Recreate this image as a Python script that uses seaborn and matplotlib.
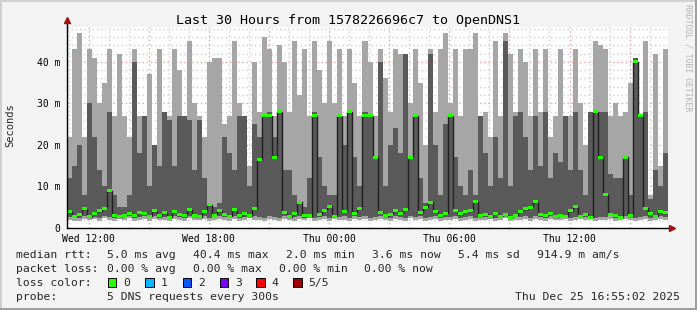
import numpy as np
import pandas as pd
import matplotlib
matplotlib.use("Agg")
import matplotlib.pyplot as plt
import matplotlib.dates as mdates
from matplotlib.patches import Rectangle
import seaborn as sns

# ---------------- data (ms), one value per 15-minute bin ----------------
start_time = "2025-12-24 10:55"
bin_freq = "15min"

ping_min = [2.0,1.8,1.7,2.2,1.9,2.1,1.6,2.3,2.0,1.8,2.2,1.9,2.4,1.7,2.0,2.1,1.8,2.2,1.9,2.0,
            1.7,2.1,2.0,1.8,2.3,1.9,2.0,2.2,1.6,1.9,2.1,2.0,1.8,2.2,1.7,2.0,2.3,1.9,2.0,1.8,
            2.1,1.9,1.7,2.2,2.0,1.8,2.1,1.9,2.3,1.7,2.0,2.2,1.8,2.1,1.9,2.0,1.6,2.2,1.9,2.1,
            1.8,2.0,2.2,1.9,1.7,2.1,2.0,1.8,2.3,1.9,2.1,1.7,2.0,2.2,1.8,2.0,1.9,2.1,1.6,2.0,
            2.2,1.8,2.0,1.9,2.1,1.7,2.0,2.3,1.8,2.0,1.9,2.2,1.7,2.1,2.0,1.8,2.2,1.9,2.0,2.1,
            1.8,2.0,2.1,1.9,2.2,1.7,2.0,1.9,2.1,1.8,2.0,2.2,1.9,1.7,2.0,2.1,1.8,2.0,2.2,1.9]

ping_low = [2.6,2.4,2.5,2.8,2.4,2.7,2.3,2.9,2.6,2.5,2.4,2.6,2.9,2.4,2.7,2.8,2.4,2.9,2.5,2.7,
            2.4,2.8,2.6,2.5,2.9,2.6,2.5,2.8,2.4,2.6,2.8,2.7,2.5,2.9,2.4,2.7,2.6,2.8,2.6,2.5,
            2.8,2.6,2.4,2.9,2.5,2.6,2.8,2.5,2.7,2.4,2.7,2.9,2.5,2.6,2.6,2.8,2.3,2.9,2.6,2.8,
            2.5,2.7,2.9,2.6,2.4,2.8,2.7,2.5,2.9,2.6,2.8,2.4,2.7,2.9,2.5,2.7,2.6,2.8,2.3,2.7,
            2.9,2.5,2.6,2.6,2.5,2.4,2.6,2.9,2.4,2.7,2.6,2.9,2.4,2.8,2.7,2.5,2.9,2.5,2.7,2.6,
            2.5,2.7,2.6,2.6,2.5,2.4,2.7,2.6,2.8,2.5,2.4,2.9,2.6,2.4,2.7,2.8,2.5,2.6,2.9,2.6]

median_rtt = [3.9,2.8,3.3,4.6,2.7,3.5,4.2,4.8,9.0,2.9,2.7,3.1,3.6,2.9,3.8,3.4,2.8,4.1,3.0,3.7,
              2.6,3.9,3.2,2.9,4.4,3.0,2.7,4.0,5.6,3.1,4.2,3.3,2.8,4.5,3.0,3.6,2.9,4.8,16.5,27.0,
              27.0,17.0,28.0,3.8,2.7,3.4,6.2,3.0,2.9,27.0,3.2,4.3,5.2,2.8,27.0,3.9,28.0,3.5,4.6,27.0,
              27.0,17.0,3.8,2.9,3.3,4.2,3.6,4.5,17.0,27.0,3.7,5.0,6.2,3.9,2.9,3.6,27.0,4.2,3.4,3.9,
              4.1,6.3,2.9,3.3,2.7,3.5,2.8,3.2,2.6,3.1,3.9,4.6,5.0,6.3,3.2,2.9,3.4,2.7,3.1,2.8,
              4.2,5.1,2.8,3.3,2.6,28.0,17.0,8.0,3.3,2.9,2.6,17.0,3.0,40.0,27.0,4.8,3.6,2.8,3.9,3.7]

ping_high = [12,15,20,8,30,22,14,10,28,8,5,5,8,40,18,27,10,20,15,28,
             26,15,27,27,26,14,26,12,5,5,6,22,18,14,27,27,10,25,22,27,
             28,22,28,14,14,8,6,5,12,28,17,10,8,8,27,20,28,17,10,28,
             27,17,40,10,20,24,18,42,17,27,12,6,42,20,8,25,27,17,10,8,
             14,8,27,18,10,22,12,45,10,27,28,22,14,27,15,28,12,18,16,27,
             14,28,14,8,28,28,28,28,13,12,12,17,8,41,27,28,7,14,10,18]

ping_max = [22,43,47,22,43,41,30,35,43,27,42,27,22,43,27,18,37,20,43,27,
            27,43,38,27,45,30,27,22,40,41,41,25,27,45,30,27,15,40,28,46,
            43,27,44,40,28,45,32,43,27,45,38,30,45,30,43,27,43,35,27,45,
            40,27,43,36,28,43,42,27,30,43,35,20,43,28,43,47,30,43,27,43,
            43,47,27,28,22,45,27,47,42,28,43,40,27,43,28,43,22,27,43,27,
            27,43,30,20,28,45,44,43,27,30,27,28,35,41,27,45,8,42,15,43]

y_ticks = [0, 10, 20, 30, 40]
y_tick_labels = ["0", "10 m", "20 m", "30 m", "40 m"]

title_text = "Last 30 Hours from 1578226696c7 to OpenDNS1"
stats_rtt = ["median rtt:", "5.0 ms avg", "40.4 ms max", "2.0 ms min", "3.6 ms now", "5.4 ms sd", "914.9 m am/s"]
stats_loss = ["packet loss:", "0.00 % avg", "0.00 % max", "0.00 % min", "0.00 % now"]
loss_labels = ["0", "1", "2", "3", "4", "5/5"]
loss_colors = ["#26ff00", "#00b8ff", "#0059ff", "#7e00ff", "#ff0000", "#a00000"]
probe_text = "5 DNS requests every 300s"
stamp_text = "Thu Dec 25 16:55:02 2025"

# ---------------- figure ----------------
W, H = 697, 310
sns.set_style("white")
plt.rcParams['font.family'] = ['DejaVu Sans Mono', 'DejaVu Sans']

fig = plt.figure(figsize=(W / 100, H / 100), dpi=100, facecolor='#f3f3f3')
ax = fig.add_axes([67 / W, 1 - 228 / H, 601 / W, 201 / H])
ax.set_facecolor('white')

edges = pd.date_range(start_time, periods=len(ping_max) + 1, freq=bin_freq)

def ext(a):
    a = np.asarray(a, dtype=float)
    return np.append(a, a[-1])

pmin, plow, pmed, phigh, pmax = map(ext, [ping_min, ping_low, median_rtt, ping_high, ping_max])
phigh = np.maximum(phigh, pmed)

# grid (below data)
hours = pd.date_range(edges[0].ceil('h'), edges[-1], freq='h')
for h in hours:
    col = '#e7a0a0' if h.hour % 3 == 0 else '#cfcfcf'
    ax.axvline(h, color=col, lw=1, ls=(0, (1, 2)), zorder=1)
for v in np.arange(2, 49, 2):
    col = '#e7a0a0' if v % 10 == 0 else '#cfcfcf'
    ax.axhline(v, color=col, lw=1, ls=(0, (1, 2)), zorder=1)

# smoke
ax.fill_between(edges, pmin, pmax, step='post', color='#a6a6a6', lw=0, zorder=2, antialiased=False)
ax.fill_between(edges, plow, phigh, step='post', color='#5a5a5a', lw=0, zorder=3, antialiased=False)

# median line and loss-coloured band
df = pd.DataFrame({'time': edges, 'median': pmed})
sns.lineplot(data=df, x='time', y='median', drawstyle='steps-post', color='#202020', lw=1,
             ax=ax, zorder=4)
ax.fill_between(edges, pmed - 0.36, pmed + 0.36, step='post', color=loss_colors[0], lw=0,
                zorder=5, antialiased=False)

ax.set_xlim(edges[0], edges[-1])
ax.set_ylim(0, 48.4)
ax.set_xlabel('')
ax.set_ylabel('')

ax.xaxis.set_major_locator(mdates.HourLocator(byhour=[0, 6, 12, 18]))
ax.xaxis.set_major_formatter(mdates.DateFormatter('%a %H:%M'))
ax.set_yticks(y_ticks)
ax.set_yticklabels(y_tick_labels)
ax.tick_params(axis='both', length=0, labelsize=7, colors='#000000')
ax.tick_params(axis='x', pad=4)
ax.tick_params(axis='y', pad=5)

for s in ['top', 'right']:
    ax.spines[s].set_visible(False)
for s in ['left', 'bottom']:
    ax.spines[s].set_color('#000000')
    ax.spines[s].set_linewidth(1)
    ax.spines[s].set_zorder(6)

# axis arrows
ax.plot([0, 0], [1, 1.035], transform=ax.transAxes, color='#000000', lw=1, clip_on=False, zorder=6)
ax.plot([1, 1.005], [0, 0], transform=ax.transAxes, color='#000000', lw=1, clip_on=False, zorder=6)
ax.plot([0], [1.035], marker='^', ms=4, color='#a01010', transform=ax.transAxes, clip_on=False, zorder=7)
ax.plot([1.007], [0], marker='>', ms=4, color='#a01010', transform=ax.transAxes, clip_on=False, zorder=7)

# texts
def fx(x):
    return x / W

def fy(y):
    return 1 - y / H

fig.text(fx(348), fy(24), title_text, ha='center', va='baseline', fontsize=9.6, color='#000000')
fig.text(fx(10), fy(125), "Seconds", rotation=90, ha='center', va='center', fontsize=7.5)
fig.text(fx(688), fy(58), "RRDTOOL / TOBI OETIKER", rotation=270, ha='center', va='center',
         fontsize=5.9, color='#b4b4b4')

lfs = 8.2
rtt_x = [15.6, 106.7, 193, 285.8, 371.6, 457.8, 537]
for t, x in zip(stats_rtt, rtt_x):
    fig.text(fx(x), fy(258), t, ha='left', va='baseline', fontsize=lfs)
loss_x = [15.6, 106.7, 193.3, 279, 364.4]
for t, x in zip(stats_loss, loss_x):
    fig.text(fx(x), fy(272), t, ha='left', va='baseline', fontsize=lfs)
fig.text(fx(15.6), fy(286), "loss color:", ha='left', va='baseline', fontsize=lfs)
box_x = [108, 145.3, 182.7, 219.6, 256.4, 293.3]
for lab, col, x in zip(loss_labels, loss_colors, box_x):
    fig.add_artist(Rectangle((fx(x), fy(286.5)), 8.4 / W, 8.5 / H, transform=fig.transFigure,
                             facecolor=col, edgecolor='#000000', lw=0.7))
    fig.text(fx(x + 15.3), fy(286), lab, ha='left', va='baseline', fontsize=lfs)
fig.text(fx(15.6), fy(300), "probe:", ha='left', va='baseline', fontsize=lfs)
fig.text(fx(106.7), fy(300), probe_text, ha='left', va='baseline', fontsize=lfs)
fig.text(fx(680), fy(300), stamp_text, ha='right', va='baseline', fontsize=lfs)

# frame
fig.add_artist(Rectangle((0, 1 - 2 / H), 1, 2 / H, transform=fig.transFigure, facecolor='#cfcfcf', lw=0))
fig.add_artist(Rectangle((0, 0), 2 / W, 1, transform=fig.transFigure, facecolor='#cfcfcf', lw=0))
fig.add_artist(Rectangle((1 - 2 / W, 0), 2 / W, 1, transform=fig.transFigure, facecolor='#9e9e9e', lw=0))
fig.add_artist(Rectangle((0, 0), 1, 2 / H, transform=fig.transFigure, facecolor='#9e9e9e', lw=0))

fig.savefig("out.png", dpi=100, facecolor=fig.get_facecolor())
